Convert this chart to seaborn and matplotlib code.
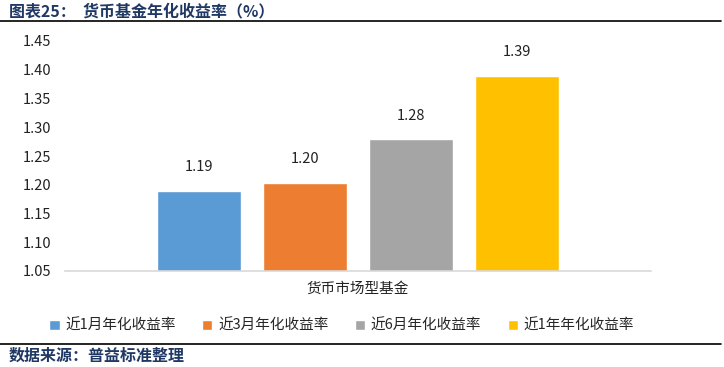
"""货币基金年化收益率 bar chart"""
import matplotlib

matplotlib.use("Agg")
from matplotlib import pyplot as plt
from matplotlib.lines import Line2D
from pandas import DataFrame
import seaborn as sns

categories = ["货币市场型基金"]
series = ["近1月年化收益率", "近3月年化收益率", "近6月年化收益率", "近1年年化收益率"]
values = [1.189, 1.203, 1.279, 1.389]
colors = ["#5B9BD5", "#ED7D31", "#A5A5A5", "#FFC000"]
yticks = [1.05, 1.10, 1.15, 1.20, 1.25, 1.30, 1.35, 1.40, 1.45]

sns.set_style("white")
plt.rcParams["font.family"] = ["Noto Sans CJK SC", "DejaVu Sans"]

df = DataFrame({"类别": categories * len(series), "系列": series, "值": values})

fig = plt.figure(figsize=(7.24, 3.67), dpi=100)
ax = fig.add_axes([65 / 724, 1 - 271 / 367, 586 / 724, 230 / 367])

sns.barplot(
    data=df, x="类别", y="值", hue="系列", palette=colors, saturation=1,
    width=0.7235, gap=0.21, ax=ax, legend=True,
)
ax.set_ylim(yticks[0], yticks[-1])
ax.set_xlim(-0.5, 0.5)
ax.set_yticks(yticks)
ax.set_yticklabels([f"{v:.2f}" for v in yticks], fontsize=10.5, color="#222222")
ax.tick_params(axis="x", labelsize=10.5, colors="#222222", length=0, pad=8)
ax.tick_params(axis="y", length=0, pad=10)
ax.set_xlabel("")
ax.set_ylabel("")
for side in ["top", "right", "left"]:
    ax.spines[side].set_visible(False)
ax.spines["bottom"].set_color("#D9D9D9")
ax.spines["bottom"].set_linewidth(1.2)

for cont in ax.containers:
    ax.bar_label(cont, fmt="%.2f", padding=12, fontsize=10.5, color="#222222")

handles, labels = ax.get_legend_handles_labels()
ax.legend_.remove()
fig.legend(
    handles, labels, loc="center", bbox_to_anchor=(0.472, 1 - 326 / 367),
    ncol=4, frameon=False, fontsize=10.5, handlelength=0.7, handleheight=0.7,
    handletextpad=0.4, columnspacing=1.8,
)

# title and source with rules
fig.text(0.012, 1 - 11 / 367, "图表25：  货币基金年化收益率（%）", fontsize=11.5,
         fontweight="bold", color="#1F3864", va="center", ha="left")
fig.add_artist(Line2D([0, 0.996], [1 - 21 / 367] * 2, color="black", lw=1.2))
fig.add_artist(Line2D([0, 0.996], [1 - 344 / 367] * 2, color="black", lw=1.2))
fig.text(0.012, 1 - 356 / 367, "数据来源：普益标准整理", fontsize=11.5,
         fontweight="bold", color="#1F3864", va="center", ha="left")

fig.savefig("out.png", dpi=100)
